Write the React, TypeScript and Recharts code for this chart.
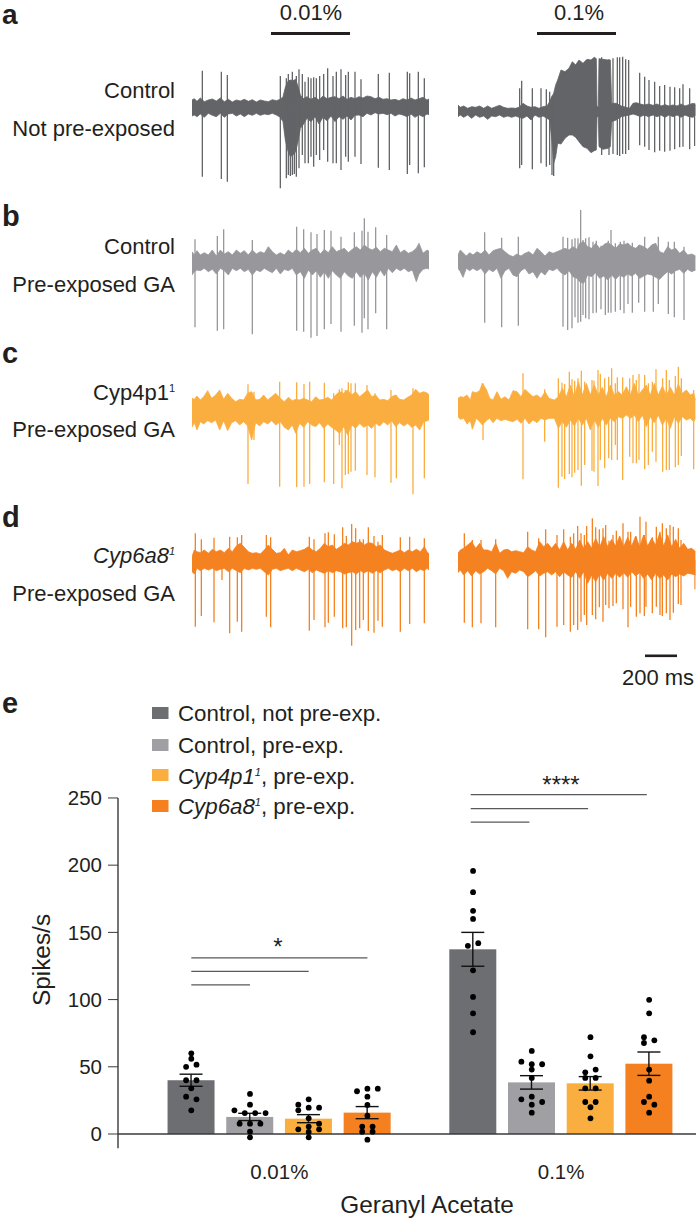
import React from "react";
import {
  ComposedChart, Area, Line, Bar, Scatter, Cell, ErrorBar, XAxis, YAxis, ReferenceLine,
} from "recharts";

type T3 = [number, number, number];

// ---- Traces: band = [time, upper, lower], spikes = [time, peak, trough]
const a1Band: T3[] = [[575,300,348],[582,296,345],[590,304,350],[600,294,342],[612,305,352],[624,300,340],[636,297,346],[648,303,350],[660,294,340],[672,305,352],[684,298,342],[696,306,340],[708,300,348],[720,303,342],[732,298,350],[744,304,342],[756,299,346],[768,306,340],[780,300,346],[792,303,342],[804,305,344],[816,299,340],[828,302,345],[840,298,352],[848,290,365],[855,262,420],[862,245,450],[870,240,470],[878,242,465],[886,238,455],[894,262,420],[900,285,385],[908,296,375],[920,290,355],[932,298,365],[944,292,350],[956,300,372],[968,288,352],[980,296,362],[992,292,348],[1004,290,365],[1016,296,350],[1028,288,358],[1040,298,348],[1052,292,360],[1064,296,346],[1076,290,345],[1088,294,350],[1100,288,340],[1112,290,345],[1124,296,338],[1136,292,342],[1148,298,340],[1160,296,344],[1172,300,340],[1184,298,348],[1196,302,342],[1208,296,345],[1220,300,350],[1232,294,342],[1244,300,352],[1256,296,344],[1268,292,350],[1280,300,342],[1288,296,345]];
const a1Spikes: T3[] = [[606,212,530],[663,215,537],[681,225,545],[840,228,565],[858,235,535],[864,222,525],[870,240,528],[876,215,525],[882,240,522],[888,228,530],[896,208,505],[906,222,465],[914,245,490],[924,232,490],[932,235,470],[940,232,500],[948,235,465],[958,228,480],[970,222,450],[982,205,485],[998,228,490],[1008,215,490],[1022,208,510],[1036,225,470],[1044,215,485],[1064,215,470],[1082,238,492],[1134,222,503],[1167,218,510],[1221,215,522],[1228,220,495],[1254,215,520],[1272,235,502]];
const a2Band: T3[] = [[55,315,350],[62,322,345],[72,318,352],[84,325,345],[96,320,355],[108,322,345],[120,318,352],[132,325,348],[144,318,358],[156,325,348],[168,320,350],[180,316,345],[192,322,352],[204,325,348],[216,324,352],[228,325,348],[238,322,352],[250,310,355],[262,318,348],[274,322,360],[286,320,345],[298,325,352],[310,320,348],[322,318,355],[330,305,360],[336,290,415],[342,280,490],[348,255,470],[354,240,430],[364,210,432],[376,215,415],[388,205,405],[398,185,405],[408,195,412],[418,180,425],[430,190,440],[442,178,445],[454,180,458],[464,172,452],[470,176,450],[472,320,350],[476,320,350],[478,176,440],[490,178,448],[505,180,445],[512,180,440],[516,310,365],[530,310,360],[545,318,350],[570,325,345],[580,310,342],[590,308,345],[602,312,350],[614,315,345],[626,312,350],[640,316,345],[652,312,350],[664,318,345],[676,314,352],[688,318,345],[700,315,350],[712,318,345],[724,312,352],[736,318,345],[748,314,350],[760,310,352],[768,315,345]];
const a2Spikes: T3[] = [[240,265,505],[246,242,495],[278,265,508],[304,265,490],[320,268,500],[330,275,495],[337,290,525],[342,285,528],[486,172,465],[508,178,465],[520,175,462],[533,172,465],[540,172,468],[549,170,462],[558,178,462],[567,180,450],[600,218,436],[615,230,440],[628,240,450],[645,245,457],[660,258,452],[675,255,455],[691,260,452],[705,262,448],[720,265,442],[730,253,440],[750,265,448],[765,310,438]];
const b1Band: T3[] = [[575,155,225],[582,165,215],[590,152,210],[600,165,212],[612,158,205],[624,165,215],[636,150,208],[648,168,222],[660,150,205],[672,162,212],[684,155,225],[696,165,205],[708,150,212],[720,160,205],[732,152,215],[744,165,208],[756,150,225],[768,162,210],[780,155,215],[792,160,205],[804,140,212],[816,155,218],[828,165,205],[840,158,222],[852,165,208],[864,150,212],[876,160,205],[888,148,225],[900,158,215],[912,145,235],[924,160,210],[936,150,225],[948,145,212],[960,162,232],[972,148,215],[984,158,235],[996,140,212],[1008,155,225],[1020,150,235],[1032,145,215],[1044,158,228],[1056,148,235],[1068,140,215],[1080,150,232],[1092,135,220],[1104,145,240],[1116,150,215],[1128,142,232],[1140,155,210],[1152,145,228],[1164,150,205],[1176,155,218],[1188,135,205],[1200,158,212],[1212,150,205],[1224,160,215],[1236,155,210],[1248,145,245],[1256,130,222],[1268,160,208],[1280,150,205],[1288,155,208]];
const b1Spikes: T3[] = [[584,118,382],[651,108,392],[670,88,388],[756,120,403],[889,80,392],[910,88,395],[932,97,413],[950,102,408],[972,90,388],[992,92,372],[1022,110,395],[1062,97,377],[1085,92,398],[1092,55,355],[1103,95,388],[1126,82,340],[1159,105,388]];
const b2Band: T3[] = [[55,165,205],[62,150,215],[70,158,232],[80,168,205],[90,158,212],[100,165,205],[112,155,212],[124,162,205],[136,150,222],[148,165,208],[160,152,215],[172,148,205],[184,145,235],[196,155,212],[208,165,205],[220,170,225],[232,162,230],[244,168,212],[256,160,205],[268,155,222],[280,165,215],[292,145,235],[304,155,215],[316,168,225],[328,155,208],[340,160,212],[352,155,205],[364,150,218],[376,145,225],[388,150,212],[400,140,230],[412,148,235],[420,130,245],[432,125,250],[444,140,225],[456,145,230],[468,130,218],[480,145,235],[492,135,228],[504,128,240],[516,135,225],[528,145,238],[540,132,225],[552,135,232],[564,130,222],[576,140,228],[588,145,220],[600,135,235],[612,140,228],[624,148,222],[636,135,225],[648,130,232],[660,155,238],[672,160,225],[684,140,215],[696,150,222],[708,145,212],[720,160,208],[732,150,220],[744,165,208],[756,162,215],[768,168,210]];
const b2Spikes: T3[] = [[135,97,368],[186,113,382],[236,110,377],[370,110,380],[384,113,390],[397,118,385],[406,115,352],[415,115,368],[423,30,365],[430,120,345],[438,115,355],[448,112,358],[460,125,340],[470,122,338],[484,137,328],[497,130,345],[506,122,338],[514,90,338],[527,130,335],[542,125,330],[553,122,340],[565,130,312],[578,128,338],[597,135,308],[615,110,335],[641,132,335],[656,110,312],[686,125,342],[704,125,352],[733,140,360]];
const c1Band: T3[] = [[575,145,232],[582,148,218],[590,138,240],[600,150,215],[610,140,222],[622,122,212],[634,145,218],[646,135,210],[658,120,240],[670,148,212],[682,130,242],[694,145,218],[706,155,212],[718,148,225],[730,150,215],[742,130,228],[754,125,270],[766,150,218],[778,148,228],[790,135,215],[802,150,222],[814,140,212],[826,130,225],[840,145,215],[852,155,232],[864,142,240],[876,152,225],[886,148,250],[898,150,220],[910,145,232],[922,150,215],[934,155,225],[946,140,230],[958,150,218],[970,148,235],[982,142,222],[994,150,232],[1006,135,240],[1018,125,250],[1030,130,230],[1042,120,255],[1054,135,225],[1066,125,235],[1078,140,220],[1090,130,232],[1102,120,225],[1114,140,235],[1126,135,220],[1138,150,228],[1150,148,215],[1162,152,225],[1174,140,212],[1186,135,230],[1198,148,218],[1210,150,228],[1222,142,220],[1234,135,232],[1246,118,225],[1258,130,240],[1270,125,215],[1282,130,212],[1288,140,208]];
const c1Spikes: T3[] = [[743,103,402],[761,125,270],[838,95,410],[889,97,412],[911,102,410],[928,95,402],[972,98,397],[1000,130,402],[1017,118,285],[1025,115,415],[1035,120,375],[1044,97,372],[1052,100,365],[1065,100,362],[1100,105,375],[1124,130,382],[1172,120,398],[1188,135,385],[1238,115,433],[1272,130,385]];
const c2Band: T3[] = [[55,145,200],[62,140,208],[72,142,205],[82,135,222],[92,150,212],[98,125,238],[110,128,205],[120,122,215],[128,100,225],[140,118,212],[150,145,205],[160,150,218],[172,125,205],[184,148,212],[196,140,208],[208,150,212],[220,122,215],[232,125,208],[244,140,220],[256,118,205],[268,130,222],[280,140,210],[292,135,218],[304,145,205],[316,125,210],[328,145,205],[344,150,205],[356,140,235],[368,115,215],[380,140,232],[392,105,210],[404,140,228],[416,95,205],[428,135,225],[440,100,205],[452,135,240],[464,105,210],[476,135,232],[488,112,205],[500,140,225],[512,105,205],[524,135,215],[536,125,200],[548,135,205],[560,110,195],[572,135,205],[584,100,195],[596,135,215],[608,120,195],[620,105,230],[632,135,200],[644,100,218],[656,135,195],[668,108,225],[680,135,205],[692,112,235],[704,135,200],[716,102,220],[728,130,200],[740,120,210],[752,135,205],[762,130,215],[768,150,205]];
const c2Spikes: T3[] = [[130,100,270],[250,70,388],[315,118,275],[356,85,413],[367,98,380],[375,102,387],[389,65,372],[397,88,382],[405,92,368],[415,85,360],[425,62,407],[435,95,345],[457,90,362],[463,92,365],[475,60,408],[482,72,330],[495,85,355],[507,80,325],[516,55,330],[527,100,285],[533,82,330],[549,82,390],[570,85,320],[580,75,340],[590,90,340],[598,72,330],[615,75,358],[626,100,345],[638,95,305],[649,58,335],[669,85,365],[680,60,360],[689,90,360],[707,78,352],[716,50,345],[725,85,318],[762,120,358]];
const d1Band: T3[] = [[575,170,215],[582,150,222],[590,155,205],[600,158,212],[612,150,205],[624,160,210],[636,148,205],[648,155,212],[660,150,208],[672,158,205],[684,145,215],[696,155,205],[708,138,212],[720,130,218],[732,142,205],[744,155,210],[756,160,205],[768,158,208],[780,162,205],[792,150,215],[804,135,225],[816,148,208],[828,160,205],[840,158,212],[852,145,208],[864,165,205],[876,150,212],[888,155,205],[900,152,210],[912,148,215],[924,140,208],[936,150,218],[948,155,210],[960,145,215],[972,130,220],[984,140,212],[996,135,218],[1008,148,212],[1020,140,215],[1032,130,222],[1044,135,218],[1056,125,215],[1068,130,222],[1080,125,212],[1092,135,218],[1104,128,212],[1116,130,220],[1128,140,212],[1140,135,218],[1152,150,210],[1164,155,205],[1176,160,212],[1188,155,208],[1200,150,215],[1212,158,205],[1224,150,212],[1236,155,205],[1248,148,215],[1260,155,208],[1272,140,212],[1280,155,205],[1288,165,212]];
const d1Spikes: T3[] = [[585,100,380],[603,118,348],[641,113,367],[665,170,240],[688,110,400],[711,112,365],[724,105,395],[798,105,350],[811,112,382],[927,110,392],[941,118,360],[974,100,382],[984,97,368],[1002,103,350],[1027,82,385],[1038,108,382],[1054,72,437],[1066,85,390],[1078,118,385],[1089,118,360],[1104,82,393],[1121,108,398],[1133,125,362],[1146,105,380],[1200,112,395],[1228,110,372],[1272,115,370]];
const d2Band: T3[] = [[55,160,218],[62,150,210],[72,145,225],[84,135,212],[96,125,228],[108,145,212],[120,130,222],[132,150,215],[144,150,205],[156,155,212],[168,130,222],[180,160,205],[192,150,212],[204,148,235],[216,155,215],[228,152,220],[240,155,210],[252,158,215],[264,140,230],[276,150,222],[288,155,212],[300,125,228],[312,140,220],[324,130,215],[336,145,225],[348,130,215],[360,150,230],[372,125,215],[384,150,225],[396,130,232],[408,148,215],[420,120,235],[432,145,215],[444,125,250],[456,145,225],[468,115,245],[480,142,222],[492,110,240],[504,140,220],[516,118,235],[528,138,220],[540,108,232],[552,140,218],[564,112,232],[576,138,215],[588,108,228],[600,140,218],[612,105,235],[624,138,222],[636,115,240],[648,135,220],[660,100,235],[672,138,225],[684,105,240],[696,140,222],[708,118,230],[720,145,222],[732,130,228],[744,148,220],[756,145,222],[768,155,225]];
const d2Spikes: T3[] = [[74,100,368],[98,120,382],[124,120,370],[168,118,382],[264,95,388],[297,115,388],[318,88,412],[352,105,380],[372,88,375],[392,110,395],[402,100,375],[414,78,390],[424,100,365],[434,105,345],[441,78,375],[458,55,345],[468,82,358],[479,88,322],[490,85,365],[498,75,315],[508,122,325],[520,105,318],[530,92,310],[550,70,328],[565,95,382],[573,95,320],[590,110,350],[601,50,340],[614,105,348],[619,65,320],[638,112,340],[650,80,320],[661,95,345],[668,70,348],[680,85,340],[691,75,360],[701,80,338],[716,85,312],[724,120,315],[766,180,268]];

// ---- Bar chart values
const barPositions = [0, 1, 2, 3, 4.8, 5.8, 6.8, 7.8];
const barValues = [40, 12.7, 11.4, 15.9, 137.4, 38.4, 37.7, 52.3];
const barErrors = [4.5, 2.7, 3, 4.5, 12.6, 5, 5, 8.7];
const barColors = ["#6d6e71", "#a0a0a4", "#fbae40", "#f58020", "#6d6e71", "#a0a0a4", "#fbae40", "#f58020"];
// [column offset, spikes/s]
const barDots: [number, number][][] = [
  [[0,60],[0,56],[-1,50],[1,51.6],[-1,40],[1,40],[0,34],[-1,27.8],[1,25.8],[0,17.6]],
  [[0,29.8],[0,21.8],[-3,17.6],[-1,15.6],[1,15.6],[3,15.6],[-2,7.7],[0,7.7],[2,7.7],[0,1.7],[0,-2.5]],
  [[0,25.8],[-2,21.8],[-2,17.6],[0,19.6],[2,19.6],[0,11.7],[2,7.7],[0,5.5],[-2,3.5],[2,3.5],[0,1.5],[0,-2.5]],
  [[-2,31.8],[0,33.7],[2,33.7],[0,27.8],[0,21.6],[0,13.6],[-1,5.5],[1,5.5],[-1,1.7],[1,1.7],[0,-4.2]],
  [[0,195.7],[0,179.9],[0,166],[0,160],[-1,140],[1,142],[0,121.8],[0,102],[0,89.8],[0,75.7]],
  [[0,61.8],[-2,53.8],[0,51.9],[2,51.9],[0,47.9],[0,41.7],[0,27.8],[-2,25.8],[2,23.8],[0,21.8],[0,15.9]],
  [[0,72],[0,57.8],[1,47.9],[-1,45.9],[-1,41.7],[1,41.7],[-1,34],[1,34],[-1,23.8],[1,23.8],[0,19.9],[0,11.7]],
  [[0,99.8],[0,89.8],[-1,72],[-1,67.7],[1,69.7],[0,47.9],[0,39.7],[0,27.8],[-1,23.8],[1,21.8],[0,15.9]],
];
const yTicks = [0, 50, 100, 150, 200, 250];
const groupCentres = [1.5, 6.3];
const groupLabels = ["0.01%", "0.1%"];
const sigLines: [number, number, number][] = [
  [0, 1, 111], [0, 2, 121], [0, 3, 131],
  [4.76, 5.76, 232], [4.76, 6.76, 242], [4.76, 7.76, 252.5],
];

const FONT = "'Liberation Sans', Arial, sans-serif";
const INK = "#231f20";
const DOT_STEP = 0.0885;

const barRows = barPositions.map((x, i) => ({ x, value: barValues[i], err: barErrors[i] }));
const dotRows = barDots.flatMap((list, i) =>
  list.map(([o, y]) => ({ x: barPositions[i] + o * DOT_STEP, y }))
);

function Trace({ band, spikes, color, left, top, height, side }: {
  band: T3[]; spikes: T3[]; color: string; left: number; top: number; height: number; side: "L" | "R";
}) {
  const dom: [number, number] = side === "L" ? [575, 1288] : [55, 768];
  const width = (dom[1] - dom[0]) / 3;
  const rows = band.map(([x, hi, lo]) => ({ x, range: [hi, lo] }));
  const mid = (band[0][1] + band[0][2]) / 2;
  const path = spikes.flatMap(([x, hi, lo]) => [
    { x, y: mid }, { x, y: hi }, { x, y: lo }, { x, y: mid },
  ]);
  return (
    <div style={{ position: "absolute", left, top }}>
      <ComposedChart width={width} height={height} data={rows} margin={{ top: 0, right: 0, bottom: 0, left: 0 }}>
        <XAxis dataKey="x" type="number" domain={dom} hide allowDataOverflow />
        <YAxis type="number" domain={[0, height * 3]} reversed hide allowDataOverflow />
        <Area dataKey="range" stroke={color} strokeWidth={0.8} fill={color} fillOpacity={1} isAnimationActive={false} dot={false} activeDot={false} />
        <Line data={path} dataKey="y" stroke={color} strokeWidth={1.3} dot={false} activeDot={false} isAnimationActive={false} />
      </ComposedChart>
    </div>
  );
}

const T = ({ x, y, a = "start", s = 22, b, children }: any) => (
  <text x={x} y={y} textAnchor={a} fontSize={s} fontWeight={b ? 700 : 400} fill={INK} fontFamily={FONT}>{children}</text>
);

const Sup = ({ children, it }: any) => (
  <tspan dy={-8} fontSize={11} fontStyle={it ? "italic" : "normal"}>{children}</tspan>
);

const BarRect = (p: any) => (
  <rect x={p.x + p.width / 2 - 23.5} y={p.y} width={47} height={p.height} fill={barColors[p.index]} />
);

export default function App() {
  const PX = 58.7;
  const xLeft = (118 - 191.3) / PX;
  const xRight = (696 - 191.3) / PX;
  return (
    <div style={{ position: "absolute", left: 0, top: 0, width: 698, height: 1222, background: "#fff", overflow: "hidden" }}>
      <Trace band={a1Band} spikes={a1Spikes} color="#636467" left={575 / 3} top={0} height={200} side="L" />
      <Trace band={a2Band} spikes={a2Spikes} color="#636467" left={440 + 55 / 3} top={0} height={200} side="R" />
      <Trace band={b1Band} spikes={b1Spikes} color="#98989c" left={575 / 3} top={200} height={150} side="L" />
      <Trace band={b2Band} spikes={b2Spikes} color="#98989c" left={440 + 55 / 3} top={200} height={150} side="R" />
      <Trace band={c1Band} spikes={c1Spikes} color="#fbae40" left={575 / 3} top={350} height={150} side="L" />
      <Trace band={c2Band} spikes={c2Spikes} color="#fbae40" left={440 + 55 / 3} top={350} height={150} side="R" />
      <Trace band={d1Band} spikes={d1Spikes} color="#f58220" left={575 / 3} top={500} height={200} side="L" />
      <Trace band={d2Band} spikes={d2Spikes} color="#f58220" left={440 + 55 / 3} top={500} height={200} side="R" />

      <div style={{ position: "absolute", left: 0, top: 770 }}>
        <ComposedChart width={698} height={452} data={barRows} margin={{ top: 7.8, right: 2, bottom: 0, left: 0 }}>
          <XAxis
            dataKey="x" type="number" scale="linear" domain={[xLeft, xRight]} allowDataOverflow
            ticks={groupCentres} tickFormatter={(v: number) => groupLabels[groupCentres.indexOf(v)]}
            axisLine={false} tickLine={false} height={73.75} tickMargin={10}
            tick={{ fontSize: 20.5, fill: INK, fontFamily: FONT }}
            interval={0}
          />
          <YAxis
            type="number" domain={[-10.6, 265]} allowDataOverflow ticks={yTicks} width={118}
            axisLine={false} tickSize={10} tickMargin={6} stroke="#3a3a3c"
            tick={{ fontSize: 20.5, fill: INK, fontFamily: FONT }}
            interval={0}
          />
          <Bar dataKey="value" barSize={47} isAnimationActive={false} shape={BarRect}>
            {barColors.map((c, i) => <Cell key={i} fill={c} />)}
            <ErrorBar dataKey="err" direction="y" width={11.5} stroke="#111" strokeWidth={1.4} isAnimationActive={false} />
          </Bar>
          <ReferenceLine y={0} stroke="#3a3a3c" strokeWidth={1.4} ifOverflow="visible" />
          <ReferenceLine segment={[{ x: xLeft, y: -10.6 }, { x: xLeft, y: 250 }]} stroke="#3a3a3c" strokeWidth={1.4} ifOverflow="visible" />
          {sigLines.map(([a, b, y], i) => (
            <ReferenceLine key={i} segment={[{ x: a, y }, { x: b, y }]} stroke="#58595b" strokeWidth={1.3} ifOverflow="visible" />
          ))}
          <Scatter data={dotRows} dataKey="y" fill="#000" isAnimationActive={false} shape={(p: any) => <circle cx={p.cx} cy={p.cy} r={2.9} fill="#000" />} />
        </ComposedChart>
      </div>

      <svg width={698} height={1222} style={{ position: "absolute", left: 0, top: 0, pointerEvents: "none" }}>
        <T x={2} y={24} s={28} b>a</T>
        <T x={2} y={226} s={29} b>b</T>
        <T x={2} y={363} s={29} b>c</T>
        <T x={2} y={527} s={29} b>d</T>
        <T x={2} y={713} s={29} b>e</T>

        <T x={311} y={19.5} a="middle">0.01%</T>
        <T x={579} y={19.5} a="middle">0.1%</T>
        <rect x={271} y={32} width={79} height={3} fill={INK} />
        <rect x={537} y={32} width={79} height={3} fill={INK} />

        <T x={175} y={98} a="end">Control</T>
        <T x={175} y={136} a="end">Not pre-exposed</T>
        <T x={175} y={254} a="end">Control</T>
        <T x={175} y={292} a="end">Pre-exposed GA</T>
        <T x={175} y={400} a="end">Cyp4p1<Sup>1</Sup></T>
        <T x={175} y={437} a="end">Pre-exposed GA</T>
        <T x={175} y={563} a="end"><tspan fontStyle="italic">Cyp6a8</tspan><Sup it>1</Sup></T>
        <T x={175} y={601} a="end">Pre-exposed GA</T>

        <rect x={645} y={654.5} width={32} height={2.6} fill={INK} />
        <T x={658} y={685} a="middle">200 ms</T>

        <rect x={152} y={707} width={16.5} height={12} fill="#6d6e71" />
        <T x={178} y={721} s={22.3}>Control, not pre-exp.</T>
        <rect x={152} y={739} width={16.5} height={12} fill="#a0a0a4" />
        <T x={178} y={753} s={22.3}>Control, pre-exp.</T>
        <rect x={152} y={769} width={16.5} height={12} fill="#fbae40" />
        <T x={178} y={784} s={22.3}><tspan fontStyle="italic">Cyp4p1</tspan><Sup it>1</Sup><tspan dy={8}>, pre-exp.</tspan></T>
        <rect x={152} y={800} width={16.5} height={12} fill="#f58020" />
        <T x={178} y={814} s={22.3}><tspan fontStyle="italic">Cyp6a8</tspan><Sup it>1</Sup><tspan dy={8}>, pre-exp.</tspan></T>

        <T x={278} y={955} a="middle" s={24}>*</T>
        <T x={561} y={793} a="middle" s={24}>****</T>

        <text x={427} y={1213} textAnchor="middle" fontSize={24.4} fill={INK} fontFamily={FONT}>Geranyl Acetate</text>
        <text transform="translate(50 960) rotate(-90)" textAnchor="middle" fontSize={24.4} fill={INK} fontFamily={FONT}>Spikes/s</text>
      </svg>
    </div>
  );
}
